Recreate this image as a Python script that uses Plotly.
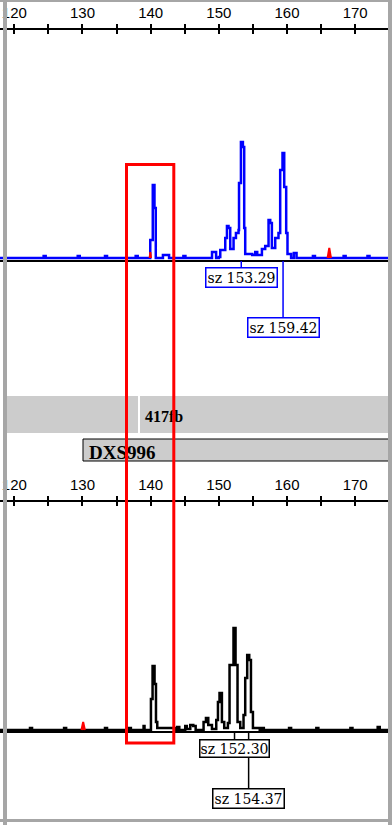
import plotly.graph_objects as go

# ---------------- data ----------------
# size axis (bp)
tick_major = 10
tick_minor = 5
size_range = [117.9, 175.4]

# upper (blue) electropherogram: size, signal
top_size = [117.9, 124.0, 124.3, 124.6, 129.0, 129.3, 129.6, 133.0, 133.3, 133.6,
            137.5, 137.8, 138.1, 139.79, 139.94, 140.23, 140.31, 140.50, 140.56, 140.67,
            140.75, 141.5, 141.8, 142.4, 142.7, 144.5, 144.8, 145.1, 148.89, 149.0,
            149.47, 149.6, 150.0, 150.21, 150.65, 150.94, 151.19, 151.42, 151.67, 152.16,
            152.51, 152.89, 152.96, 153.24, 153.53, 153.72, 153.87, 154.90, 155.34, 155.63,
            156.32, 156.80, 157.29, 157.54, 157.78, 158.27, 158.75, 159.00, 159.34, 159.59,
            159.88, 160.07, 160.6, 161.0, 161.4, 163.5, 163.8, 164.1, 168.0, 168.3,
            168.6, 171.5, 171.8, 172.1, 175.5]
top_signal = [3, 3, 5, 3, 3, 5, 3, 3, 5, 3,
              3, 5, 3, 3, 21, 21, 76, 76, 53, 53,
              3, 3, 6, 6, 3, 3, 5, 3, 3, 9,
              9, 3, 4, 11, 11, 23, 35, 33, 12, 23,
              28, 31, 78, 119, 114, 33, 7, 6, 9, 6,
              12, 15, 41, 38, 13, 23, 28, 91, 108, 74,
              28, 7, 3, 8, 3, 3, 5, 3, 3, 5,
              3, 3, 5, 3, 3]

# size-standard (red) markers in the upper panel
top_std_size = [139.85, 139.95, 140.05, None, 165.95, 166.2, 166.45]
top_std_signal = [3, 9, 3, None, 3, 13, 3]

# lower (black) electropherogram: size, signal
bot_size = [117.9, 122.0, 122.3, 122.6, 127.0, 127.3, 127.6, 133.0, 133.3, 133.6,
            136.5, 136.8, 137.1, 138.8, 138.96, 139.1, 139.9, 140.04, 140.28, 140.57,
            140.78, 140.97, 143.6, 143.9, 144.2, 144.9, 145.07, 145.3, 145.81, 146.25,
            146.6, 147.5, 147.76, 148.11, 148.45, 148.99, 149.62, 149.87, 150.10, 150.45,
            150.79, 151.33, 151.57, 151.96, 152.15, 152.30, 152.45, 152.74, 153.14, 153.62,
            153.87, 154.16, 154.46, 154.71, 155.00, 156.0, 156.3, 156.6, 160.0, 160.3,
            160.6, 164.0, 164.3, 164.6, 169.0, 169.3, 169.6, 173.0, 173.3, 173.6, 175.5]
bot_signal = [2, 2, 4, 2, 2, 4, 2, 2, 4, 2,
              2, 4, 2, 2, 6, 2, 2, 33, 66, 48,
              10, 4, 2, 5, 2, 2, 6, 3, 7, 6,
              2, 2, 10, 14, 7, 3, 12, 30, 39, 10,
              4, 9, 67, 67, 104, 104, 67, 10, 4, 17,
              54, 77, 72, 20, 4, 2, 4, 2, 2, 4,
              2, 2, 4, 2, 2, 4, 2, 2, 5, 2, 2]

bot_std_size = [129.85, 130.1, 130.35]
bot_std_signal = [2, 10, 2]

# peak size labels
top_labels = [153.29, 159.42]
bot_labels = [152.30, 154.37]

bin_label = "417fb"
marker_label = "DXS996"

# ---------------- layout helpers ----------------
W, H = 392, 825


def py(p):
    return 1 - p / H


def px(p):
    return p / W


fig = go.Figure()

fig.add_trace(go.Scatter(x=top_size, y=top_signal, mode="lines", line=dict(color="#0000ff", width=2.5, shape="hv"),
                         xaxis="x", yaxis="y", showlegend=False, hoverinfo="skip"))
fig.add_trace(go.Scatter(x=top_std_size, y=top_std_signal, mode="lines", fill="toself", fillcolor="red",
                         line=dict(color="red", width=2), xaxis="x", yaxis="y", showlegend=False, hoverinfo="skip"))
fig.add_trace(go.Scatter(x=bot_size, y=bot_signal, mode="lines", line=dict(color="black", width=2.5, shape="hv"),
                         xaxis="x2", yaxis="y2", showlegend=False, hoverinfo="skip"))
fig.add_trace(go.Scatter(x=bot_std_size, y=bot_std_signal, mode="lines", fill="toself", fillcolor="red",
                         line=dict(color="red", width=2), xaxis="x2", yaxis="y2", showlegend=False, hoverinfo="skip"))
# empty traces to host the overlaid tick axes
fig.add_trace(go.Scatter(x=[], y=[], xaxis="x3", yaxis="y", showlegend=False))
fig.add_trace(go.Scatter(x=[], y=[], xaxis="x4", yaxis="y2", showlegend=False))

tickfont = dict(family="Liberation Sans", size=15, color="black")
main_ax = dict(range=size_range, side="top", showgrid=False, zeroline=False, showline=True,
               linecolor="black", linewidth=1.5, ticks="outside", ticklen=4, tickwidth=1.5,
               tickcolor="black", dtick=tick_major, tick0=0, tickfont=tickfont,
               ticklabelstandoff=0,
               minor=dict(dtick=tick_minor, tick0=0, ticks="outside", ticklen=4, tickwidth=1.5,
                          tickcolor="black", showgrid=False))
over_ax = dict(range=size_range, side="top", showgrid=False, zeroline=False, showline=False,
               ticks="inside", ticklen=4, tickwidth=1.5, tickcolor="black", dtick=tick_major, tick0=0,
               showticklabels=False,
               minor=dict(dtick=tick_minor, tick0=0, ticks="inside", ticklen=4, tickwidth=1.5,
                          tickcolor="black", showgrid=False))

yax = dict(showgrid=False, showticklabels=False, ticks="", showline=False, zeroline=True,
           zerolinecolor="black", zerolinewidth=1.5)

fig.update_layout(
    width=W, height=H, margin=dict(l=0, r=0, t=0, b=0),
    paper_bgcolor="white", plot_bgcolor="white",
    xaxis=dict(domain=[0, 1], anchor="y", **main_ax),
    xaxis2=dict(domain=[0, 1], anchor="y2", **main_ax),
    xaxis3=dict(domain=[0, 1], anchor="y", overlaying="x", **over_ax),
    xaxis4=dict(domain=[0, 1], anchor="y2", overlaying="x2", **over_ax),
    yaxis=dict(domain=[py(396), py(30)], range=[-135, 231], **yax),
    yaxis2=dict(domain=[py(818), py(502)], range=[-86, 230], **yax),
)

shapes = []
# connectors from peaks to size labels
shapes.append(dict(type="line", xref="x", yref="paper", x0=top_labels[0], x1=top_labels[0],
                   y0=py(261), y1=py(268), line=dict(color="#0000ff", width=1.5)))
shapes.append(dict(type="line", xref="x", yref="paper", x0=top_labels[1], x1=top_labels[1],
                   y0=py(261), y1=py(318), line=dict(color="#0000ff", width=1.5)))
shapes.append(dict(type="line", xref="x2", yref="paper", x0=bot_labels[0], x1=bot_labels[0],
                   y0=py(732), y1=py(740), line=dict(color="black", width=1.5)))
shapes.append(dict(type="line", xref="x2", yref="paper", x0=bot_labels[1], x1=bot_labels[1],
                   y0=py(732), y1=py(789), line=dict(color="black", width=1.5)))

# bin bar
shapes.append(dict(type="rect", xref="paper", yref="paper", x0=px(7), x1=1, y0=py(433), y1=py(396),
                   fillcolor="#cccccc", line=dict(width=0), layer="above"))
shapes.append(dict(type="line", xref="paper", yref="paper", x0=px(139), x1=px(139), y0=py(433), y1=py(396),
                   line=dict(color="white", width=2), layer="above"))
shapes.append(dict(type="rect", xref="paper", yref="paper", x0=px(140), x1=1, y0=py(433), y1=py(396),
                   fillcolor="rgba(0,0,0,0)", line=dict(width=0), layer="above",
                   label=dict(text="<b>" + bin_label + "</b>", textposition="middle left", padding=2,
                              font=dict(family="Liberation Serif", size=16, color="black"))))
# marker bar
shapes.append(dict(type="rect", xref="paper", yref="paper", x0=px(83), x1=px(394), y0=py(461), y1=py(439),
                   fillcolor="#cccccc", line=dict(color="black", width=1), layer="above",
                   label=dict(text="<b>" + marker_label + "</b>", textposition="middle left", padding=3,
                              font=dict(family="Liberation Serif", size=19, color="black"))))

# window frame
frame = "#a6a6a6"
shapes.append(dict(type="rect", xref="paper", yref="paper", x0=px(3), x1=px(7), y0=0, y1=1,
                   fillcolor=frame, line=dict(width=0), layer="above"))
shapes.append(dict(type="rect", xref="paper", yref="paper", x0=px(388), x1=1, y0=0, y1=1,
                   fillcolor=frame, line=dict(width=0), layer="above"))
shapes.append(dict(type="rect", xref="paper", yref="paper", x0=0, x1=1, y0=py(2), y1=1,
                   fillcolor=frame, line=dict(width=0), layer="above"))
shapes.append(dict(type="rect", xref="paper", yref="paper", x0=0, x1=1, y0=py(822), y1=py(819),
                   fillcolor=frame, line=dict(width=0), layer="above"))

# red highlight box
shapes.append(dict(type="rect", xref="paper", yref="paper", x0=px(126.5), x1=px(173.8),
                   y0=py(743), y1=py(164.5), line=dict(color="red", width=3), fillcolor="rgba(0,0,0,0)",
                   layer="above"))

fig.update_layout(shapes=shapes)

lblfont = dict(family="DejaVu Serif", size=14, color="black")
ann = []
ann.append(dict(xref="x", yref="paper", x=top_labels[0], y=py(267), yanchor="top", xanchor="center",
                text="sz %.2f" % top_labels[0], showarrow=False, font=lblfont, bgcolor="white",
                bordercolor="#0000ff", borderwidth=1.5, borderpad=1))
ann.append(dict(xref="x", yref="paper", x=top_labels[1], y=py(317), yanchor="top", xanchor="center",
                text="sz %.2f" % top_labels[1], showarrow=False, font=lblfont, bgcolor="white",
                bordercolor="#0000ff", borderwidth=1.5, borderpad=1))
ann.append(dict(xref="x2", yref="paper", x=bot_labels[0], y=py(739), yanchor="top", xanchor="center",
                text="sz %.2f" % bot_labels[0], showarrow=False, font=lblfont, bgcolor="white",
                bordercolor="black", borderwidth=1.5, borderpad=0))
ann.append(dict(xref="x2", yref="paper", x=bot_labels[1], y=py(788), yanchor="top", xanchor="center",
                text="sz %.2f" % bot_labels[1], showarrow=False, font=lblfont, bgcolor="white",
                bordercolor="black", borderwidth=1.5, borderpad=1))
fig.update_layout(annotations=ann)

fig.write_html("out.html", config={"displayModeBar": False},
               post_script="document.body.style.margin='0px';")
